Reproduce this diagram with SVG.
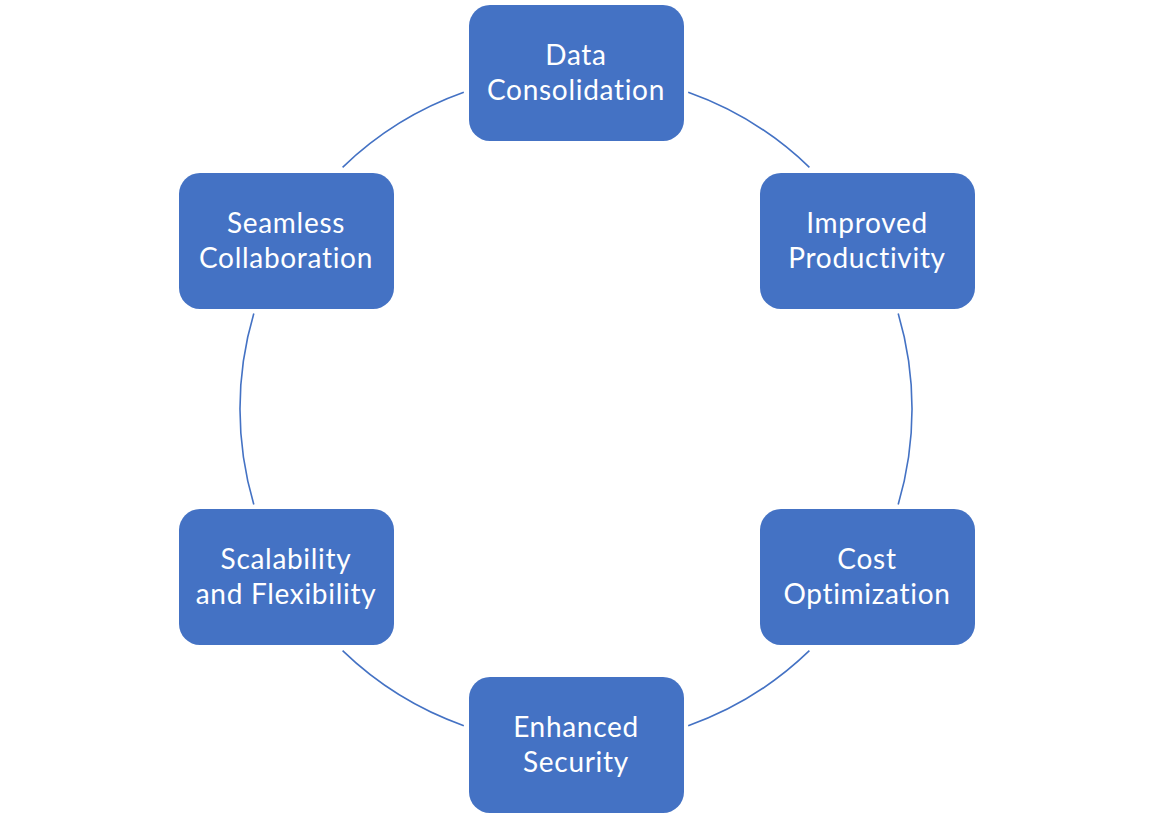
<svg xmlns="http://www.w3.org/2000/svg" width="1152" height="819" viewBox="0 0 1152 819">
<style>
.box{fill:#4472C4;}
.lbl{fill:#FFFFFF;font-family:Lato,"Open Sans",sans-serif;font-size:28px;letter-spacing:0.7px;font-variant-ligatures:none;text-anchor:middle;}
.arc{fill:none;stroke:#4472C4;stroke-width:1.6;}
</style>
<rect width="1152" height="819" fill="#FFFFFF"/>
<g id="connectors">
<path class="arc" d="M 688.2 92.3 A 336 336 0 0 1 809.4 167.3"/>
<path class="arc" d="M 898.2 313.6 A 336 336 0 0 1 898.2 504.4"/>
<path class="arc" d="M 809.4 650.7 A 336 336 0 0 1 688.2 725.7"/>
<path class="arc" d="M 463.8 725.7 A 336 336 0 0 1 342.6 650.7"/>
<path class="arc" d="M 253.8 504.4 A 336 336 0 0 1 253.8 313.6"/>
<path class="arc" d="M 342.6 167.3 A 336 336 0 0 1 463.8 92.3"/>
</g>
<g id="data-consolidation">
<rect class="box" x="469" y="5" width="215" height="136" rx="21"/>
<text class="lbl" x="576" y="65">Data</text>
<text class="lbl" x="576" y="100">Consolidation</text>
</g>
<g id="improved-productivity">
<rect class="box" x="760" y="173" width="215" height="136" rx="21"/>
<text class="lbl" x="867" y="233">Improved</text>
<text class="lbl" x="867" y="268">Productivity</text>
</g>
<g id="cost-optimization">
<rect class="box" x="760" y="509" width="215" height="136" rx="21"/>
<text class="lbl" x="867" y="569">Cost</text>
<text class="lbl" x="867" y="604">Optimization</text>
</g>
<g id="enhanced-security">
<rect class="box" x="469" y="677" width="215" height="136" rx="21"/>
<text class="lbl" x="576" y="737">Enhanced</text>
<text class="lbl" x="576" y="772">Security</text>
</g>
<g id="scalability-flexibility">
<rect class="box" x="179" y="509" width="215" height="136" rx="21"/>
<text class="lbl" x="286" y="569">Scalability</text>
<text class="lbl" x="286" y="604">and Flexibility</text>
</g>
<g id="seamless-collaboration">
<rect class="box" x="179" y="173" width="215" height="136" rx="21"/>
<text class="lbl" x="286" y="233">Seamless</text>
<text class="lbl" x="286" y="268">Collaboration</text>
</g>
</svg>
